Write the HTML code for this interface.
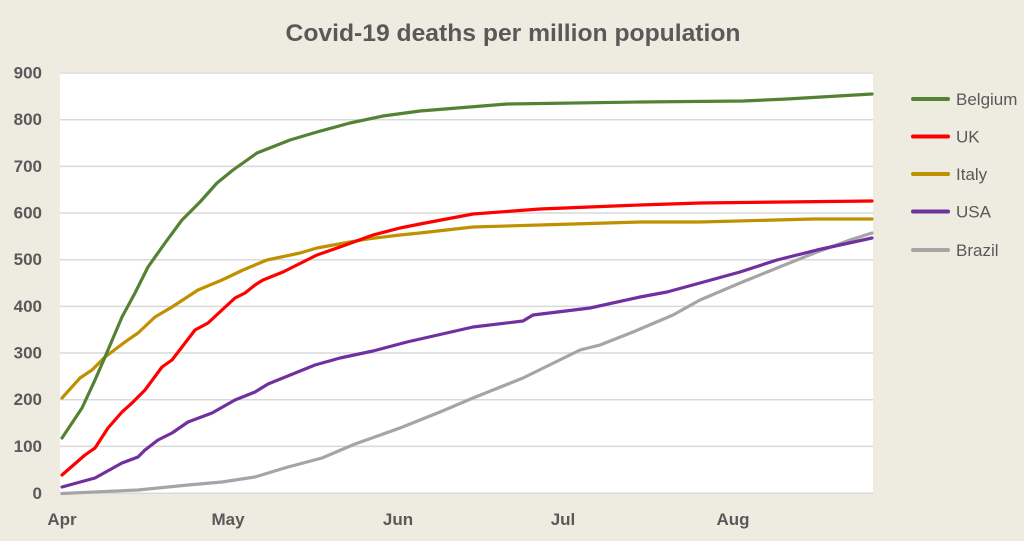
<!DOCTYPE html>
<html><head><meta charset="utf-8"><style>
html,body{margin:0;padding:0;background:#EEECE1;}
svg{display:block;}
</style></head><body>
<svg width="1024" height="541" viewBox="0 0 1024 541" xmlns="http://www.w3.org/2000/svg">
<rect x="0" y="0" width="1024" height="541" fill="#EEECE1"/>
<text x="513" y="41" text-anchor="middle" font-family="Liberation Sans, sans-serif" font-weight="bold" font-size="24" fill="#595959" textLength="455" lengthAdjust="spacingAndGlyphs">Covid-19 deaths per million population</text>
<rect x="60" y="72" width="813" height="422" fill="#FFFFFF"/>
<g stroke="#D9D9D9" stroke-width="1.5">
<line x1="60" x2="873" y1="73" y2="73"/>
<line x1="60" x2="873" y1="119.7" y2="119.7"/>
<line x1="60" x2="873" y1="166.4" y2="166.4"/>
<line x1="60" x2="873" y1="213" y2="213"/>
<line x1="60" x2="873" y1="259.7" y2="259.7"/>
<line x1="60" x2="873" y1="306.4" y2="306.4"/>
<line x1="60" x2="873" y1="353" y2="353"/>
<line x1="60" x2="873" y1="399.7" y2="399.7"/>
<line x1="60" x2="873" y1="446.4" y2="446.4"/>
<line x1="60" x2="873" y1="493.3" y2="493.3"/>
</g>
<g font-family="Liberation Sans, sans-serif" font-weight="bold" font-size="17" fill="#595959" text-anchor="end">
<text x="42" y="78.5">900</text>
<text x="42" y="125.2">800</text>
<text x="42" y="171.9">700</text>
<text x="42" y="218.5">600</text>
<text x="42" y="265.2">500</text>
<text x="42" y="311.9">400</text>
<text x="42" y="358.5">300</text>
<text x="42" y="405.2">200</text>
<text x="42" y="451.9">100</text>
<text x="42" y="498.8">0</text>
</g>
<g font-family="Liberation Sans, sans-serif" font-weight="bold" font-size="17" fill="#595959" text-anchor="middle">
<text x="62" y="525">Apr</text>
<text x="228" y="525">May</text>
<text x="398" y="525">Jun</text>
<text x="563" y="525">Jul</text>
<text x="733" y="525">Aug</text>
</g>
<g fill="none" stroke-width="3.2" stroke-linejoin="round" stroke-linecap="round">
<polyline stroke="#A5A5A5" points="62,493.5 138,490 188,485 222,482 255,477 288,467 322,458 355,444 400,428 440,412 473,398 523,378 580,350 600,345 633,332 673,315 700,300 740,283 777,268 817,252 850,240 872,233"/>
<polyline stroke="#7030A0" points="62,487 95,478 122,463 138,457 145,450 158,440 172,433 188,422 212,413 235,400 255,392 268,384 315,365 340,358 373,351 407,342 473,327 523,321 533,315 590,308 640,297 667,292 700,283 740,272 777,260 817,250 872,238"/>
<polyline stroke="#BF9000" points="62,398 80,378 92,370 105,357 125,342 138,333 155,317 172,307 198,290 222,280 243,270 267,260 300,253 317,248 350,242 367,239 400,235 420,233 473,227 540,225 640,222 700,222 813,219 872,219"/>
<polyline stroke="#FF0000" points="62,475 85,455 95,448 108,428 122,412 132,403 145,390 162,367 172,360 182,347 195,330 208,323 222,310 235,298 245,293 255,285 263,280 283,272 317,255 340,247 373,235 400,228 420,224 473,214 540,209 640,205 700,203 872,201"/>
<polyline stroke="#548235" points="62,438 82,408 95,380 105,357 122,317 135,293 148,267 165,243 182,220 200,202 217,183 233,170 257,153 290,140 317,132 350,123 383,116 420,111 507,104 640,102 743,101 787,99 872,94"/>
</g>
<g stroke-width="4" stroke-linecap="round">
<line x1="913" x2="948" y1="99" y2="99" stroke="#548235"/>
<line x1="913" x2="948" y1="136.5" y2="136.5" stroke="#FF0000"/>
<line x1="913" x2="948" y1="174" y2="174" stroke="#BF9000"/>
<line x1="913" x2="948" y1="211.5" y2="211.5" stroke="#7030A0"/>
<line x1="913" x2="948" y1="250" y2="250" stroke="#A5A5A5"/>
</g>
<g font-family="Liberation Sans, sans-serif" font-size="17" fill="#595959">
<text x="956" y="105">Belgium</text>
<text x="956" y="142.5">UK</text>
<text x="956" y="180">Italy</text>
<text x="956" y="217.5">USA</text>
<text x="956" y="256">Brazil</text>
</g>
</svg>
</body></html>
